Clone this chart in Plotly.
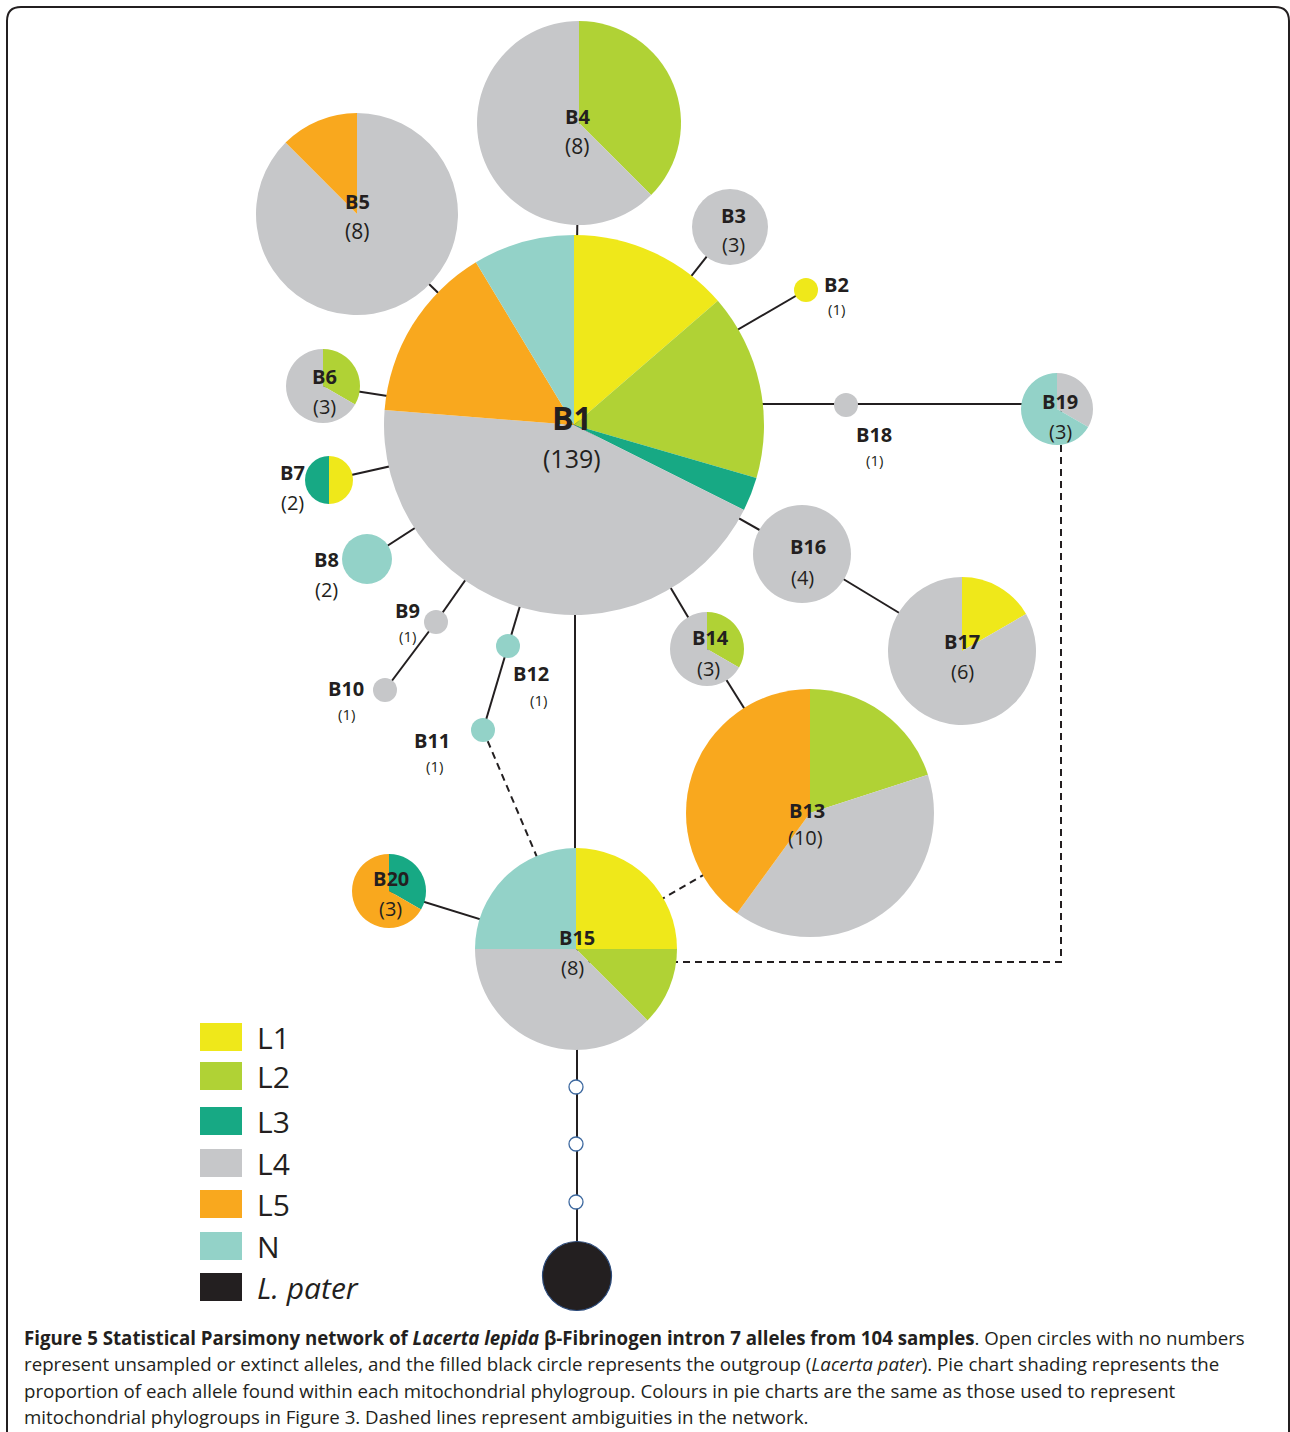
import plotly.graph_objects as go

W, H = 1290, 1432

# ---------------- data ----------------
groups = ["L1", "L2", "L3", "L4", "L5", "N"]
alleles = ["B1", "B2", "B3", "B4", "B5", "B6", "B7", "B8", "B9", "B10",
           "B11", "B12", "B13", "B14", "B15", "B16", "B17", "B18", "B19", "B20"]
L1 = [19, 1, 0, 0, 0, 0, 1, 0, 0, 0, 0, 0, 0, 0, 2, 0, 1, 0, 0, 0]
L2 = [22, 0, 0, 3, 0, 1, 0, 0, 0, 0, 0, 0, 2, 1, 1, 0, 0, 0, 0, 0]
L3 = [4, 0, 0, 0, 0, 0, 1, 0, 0, 0, 0, 0, 0, 0, 0, 0, 0, 0, 0, 1]
L4 = [61, 0, 3, 5, 7, 2, 0, 0, 1, 1, 0, 0, 4, 2, 3, 4, 5, 1, 1, 0]
L5 = [21, 0, 0, 0, 1, 0, 0, 0, 0, 0, 0, 0, 4, 0, 0, 0, 0, 0, 0, 2]
N = [12, 0, 0, 0, 0, 0, 0, 2, 0, 0, 1, 1, 0, 0, 2, 0, 0, 0, 2, 0]
legend_labels = ["L1", "L2", "L3", "L4", "L5", "N", "<i>L. pater</i>"]

series = [L1, L2, L3, L4, L5, N]
totals = [sum(v) for v in zip(*series)]

# ---------------- styles / layout ----------------
colors = ["#EFE81A", "#B0D235", "#17A984", "#C6C7C9", "#F9A81E", "#93D2C8"]
black = "#231F20"
FONT = "Open Sans"

# node centre (px) and radius (px)
nodes = {
    "B1": (574, 425, 190), "B2": (806, 290, 12), "B3": (730, 227, 38),
    "B4": (579, 123, 102), "B5": (357, 214, 101), "B6": (323, 386, 37),
    "B7": (329, 480, 24), "B8": (367, 559, 25), "B9": (436, 622, 12),
    "B10": (385, 690, 12), "B11": (483, 730, 12), "B12": (508, 646, 12),
    "B13": (810, 813, 124), "B14": (707, 649, 37), "B15": (576, 949, 101),
    "B16": (802, 554, 49), "B17": (962, 651, 74), "B18": (846, 405, 12),
    "B19": (1057, 409, 36), "B20": (389, 891, 37),
}
# label positions: (name x, name y, count x, count y, count font size)
labels = {
    "B1": (572, 417, 572, 458, 25), "B2": (836, 284, 836, 309, 15),
    "B3": (733, 215, 733, 244, 20), "B4": (577, 116, 577, 146, 21),
    "B5": (357, 201, 357, 231, 21), "B6": (324, 376, 324, 406, 20),
    "B7": (292, 472, 292, 502, 20), "B8": (326, 559, 326, 589, 20),
    "B9": (407, 610, 407, 636, 15), "B10": (346, 688, 346, 714, 15),
    "B11": (432, 740, 434, 766, 15), "B12": (531, 673, 538, 700, 15),
    "B13": (807, 810, 805, 837, 20), "B14": (710, 637, 708, 668, 20),
    "B15": (577, 937, 572, 967, 20), "B16": (808, 546, 802, 577, 20),
    "B17": (962, 641, 962, 671, 20), "B18": (874, 434, 874, 460, 15),
    "B19": (1060, 401, 1060, 431, 20), "B20": (391, 878, 390, 908, 20),
}

fig = go.Figure()

def seg(pts, dash="solid"):
    fig.add_trace(go.Scatter(
        x=[p[0] for p in pts], y=[p[1] for p in pts], mode="lines",
        line=dict(color=black, width=2, dash=dash),
        hoverinfo="skip", showlegend=False))

def c(n):
    return nodes[n][:2]

# solid edges
for a, b in [("B1", "B2"), ("B1", "B3"), ("B1", "B4"), ("B1", "B5"), ("B1", "B6"),
             ("B1", "B7"), ("B1", "B8"), ("B1", "B9"), ("B9", "B10"), ("B1", "B12"),
             ("B12", "B11"), ("B1", "B14"), ("B14", "B13"), ("B1", "B16"),
             ("B16", "B17"), ("B15", "B20")]:
    seg([c(a), c(b)])
seg([(575, 430), (575, 949)])
seg([(700, 404), (1057, 404)])
seg([(577, 949), (577, 1276)])
# dashed (ambiguous) edges
seg([c("B11"), c("B15")], dash="7px,5px")
seg([c("B13"), c("B15")], dash="7px,5px")
seg([(1061, 409), (1061, 962), (576, 962)], dash="7px,5px")

# unsampled alleles and outgroup
fig.add_trace(go.Scatter(
    x=[576, 576, 576], y=[1087, 1144, 1202], mode="markers",
    marker=dict(size=14, color="white", line=dict(color="#3F6AA0", width=1.3)),
    hoverinfo="skip", showlegend=False))
fig.add_trace(go.Scatter(
    x=[577], y=[1276], mode="markers",
    marker=dict(size=69, color=black, line=dict(color="#2B4A7A", width=1.2)),
    hoverinfo="skip", showlegend=False))

# pies
for i, name in enumerate(alleles):
    cx, cy, r = nodes[name]
    vals = [s[i] for s in series]
    fig.add_trace(go.Pie(
        values=vals, labels=groups, sort=False, direction="clockwise",
        rotation=0, marker=dict(colors=colors, line=dict(width=0)),
        textinfo="none", hoverinfo="skip", showlegend=False,
        domain=dict(x=[(cx - r) / W, (cx + r) / W],
                    y=[1 - (cy + r) / H, 1 - (cy - r) / H])))

annotations = []
for i, name in enumerate(alleles):
    nx, ny, tx, ty, fs = labels[name]
    big = name == "B1"
    annotations.append(dict(x=nx, y=ny, text=f"<b>{name}</b>", showarrow=False,
                            font=dict(family=FONT, size=32 if big else 20, color=black)))
    annotations.append(dict(x=tx, y=ty, text=f"({totals[i]})", showarrow=False,
                            font=dict(family=FONT, size=fs, color=black)))

# legend
shapes = []
leg_y = [1037, 1076, 1121, 1163, 1204, 1246, 1287]
leg_cols = colors + [black]
for lab, yy, col in zip(legend_labels, leg_y, leg_cols):
    shapes.append(dict(type="rect", xref="x", yref="y", x0=200, x1=242,
                       y0=yy - 14, y1=yy + 14, fillcolor=col, line=dict(width=0)))
    annotations.append(dict(x=255, y=yy, text=lab, showarrow=False, xanchor="left",
                            font=dict(family=FONT, size=30, color=black)))

# frame
shapes.append(dict(type="path", xref="x", yref="y",
                   path="M 7,1440 L 7,21 Q 7,7 21,7 L 1275,7 Q 1289,7 1289,21 L 1289,1440",
                   line=dict(color=black, width=2)))

# caption
cap = [
    "<b>Figure 5 Statistical Parsimony network of <i>Lacerta lepida</i> β-Fibrinogen intron 7 alleles from 104 samples</b>. Open circles with no numbers",
    "represent unsampled or extinct alleles, and the filled black circle represents the outgroup (<i>Lacerta pater</i>). Pie chart shading represents the",
    "proportion of each allele found within each mitochondrial phylogroup. Colours in pie charts are the same as those used to represent",
    "mitochondrial phylogroups in Figure 3. Dashed lines represent ambiguities in the network.",
]
for k, line in enumerate(cap):
    annotations.append(dict(x=22, y=1337 + k * 26.5, text=line, showarrow=False,
                            xanchor="left", font=dict(family=FONT, size=18.7, color=black)))

fig.update_layout(
    width=W, height=H, margin=dict(l=0, r=0, t=0, b=0),
    paper_bgcolor="white", plot_bgcolor="white",
    xaxis=dict(range=[0, W], visible=False, fixedrange=True),
    yaxis=dict(range=[H, 0], visible=False, fixedrange=True),
    shapes=shapes, annotations=annotations, showlegend=False,
)

fig.write_html("out.html", config={"displayModeBar": False},
               post_script="document.body.style.margin='0px';")
